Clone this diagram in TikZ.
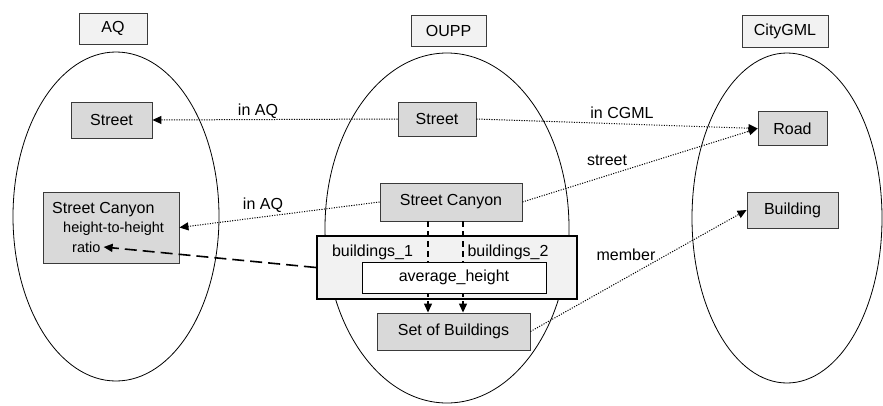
\documentclass[tikz,border=0pt]{standalone}
\usepackage{fontspec}
\setmainfont{Liberation Sans}
\usetikzlibrary{arrows.meta,shapes.geometric}
\definecolor{boxgray}{HTML}{D9D9D9}
\definecolor{lightgray}{HTML}{F2F2F2}
\definecolor{edgegray}{HTML}{3A3A3A}
\tikzset{
  schema/.style={draw, ellipse, line width=0.8pt, inner sep=0pt},
  title/.style={draw=edgegray, fill=lightgray, line width=0.8pt, inner sep=0pt, font=\fontsize{16}{19}\selectfont},
  cls/.style={draw=edgegray, fill=boxgray, line width=0.9pt, inner sep=0pt, font=\fontsize{16}{19}\selectfont},
  lbl/.style={inner sep=0pt, font=\fontsize{16}{19}\selectfont},
  small/.style={inner sep=0pt, anchor=west, font=\fontsize{14.5}{17}\selectfont},
  tip/.style={-{Triangle[length=9pt,width=8pt]}},
  link/.style={tip, line width=1pt, dash pattern=on 1.1pt off 1.4pt},
  derive/.style={tip, line width=1.2pt, dash pattern=on 6pt off 4pt},
  attr/.style={tip, line width=1.6pt, dash pattern=on 12pt off 6pt}
}
\begin{document}
\begin{tikzpicture}[x=1pt,y=-1pt]
\useasboundingbox[fill=white] (0,0) rectangle (883,405);

% the three schemas
\node[schema, minimum width=206pt, minimum height=329pt] (eAQ) at (116,216.5) {};
\node[schema, minimum width=244pt, minimum height=350pt] (eOUPP) at (447,228) {};
\node[schema, minimum width=190pt, minimum height=330pt] (eCGML) at (787,218) {};

\node[title, minimum width=68pt, minimum height=31pt] (tAQ) at (113,28.5) {AQ};
\node[title, minimum width=75pt, minimum height=31pt] (tOUPP) at (448.5,30.5) {OUPP};
\node[title, minimum width=86pt, minimum height=32pt] (tCGML) at (785,31) {CityGML};

% AQ classes
\node[cls, minimum width=81pt, minimum height=36pt] (sA) at (111.5,120) {Street};
\node[cls, minimum width=136pt, minimum height=71pt] (scA) at (111,227.5) {};
\node[small, font=\fontsize{16}{19}\selectfont] (scAname) at (52,210) {Street Canyon};
\node[small] (hth) at (63,229) {height-to-height};
\node[small] (ratio) at (72,247) {ratio};

% OUPP classes
\node[cls, minimum width=78pt, minimum height=34pt] (sO) at (437,119) {Street};
\node[cls, minimum width=142pt, minimum height=38pt] (scO) at (451,202) {Street Canyon};
\node[cls, minimum width=153pt, minimum height=37pt] (sob) at (453.5,331.5) {Set of Buildings};
\node[draw, fill=lightgray, line width=2.2pt, minimum width=260pt, minimum height=63pt, inner sep=0pt] (assoc) at (447,267.5) {};
\node[lbl] (b1) at (372.5,252) {buildings\_1};
\node[lbl] (b2) at (508,252) {buildings\_2};

% the two building roles
\draw[derive] ([xshift=-23pt]scO.south) -- ([xshift=-23pt]scO.south |- sob.north);
\draw[derive] ([xshift=12pt]scO.south) -- ([xshift=12pt]scO.south |- sob.north);

\node[draw, fill=white, line width=0.9pt, minimum width=184pt, minimum height=31pt, inner sep=0pt, font=\fontsize{16}{19}\selectfont] (avg) at (454,277.5) {average\_height};

% CityGML classes
\node[cls, minimum width=69pt, minimum height=34pt] (road) at (792.5,128.5) {Road};
\node[cls, minimum width=91pt, minimum height=36pt] (bld) at (792.5,210) {Building};

% mappings between schemas
\draw[link] (sO.west) -- (sA.east);
\draw[link] (scO.west) -- (scA.east);
\draw[link] (sO.east) -- (road.west);
\draw[link] (scO.east) -- (road.west);
\draw[link] (sob.east) -- (bld.west);
\draw[attr] (assoc.west) -- ([xshift=3pt]ratio.east);

\node[lbl] (lAQ1) at (258,111) {in AQ};
\node[lbl] (lAQ2) at (263,205) {in AQ};
\node[lbl] (lCGML) at (622,113) {in CGML};
\node[lbl] (lstreet) at (607,160) {street};
\node[lbl] (lmember) at (626,255) {member};
\end{tikzpicture}
\end{document}
